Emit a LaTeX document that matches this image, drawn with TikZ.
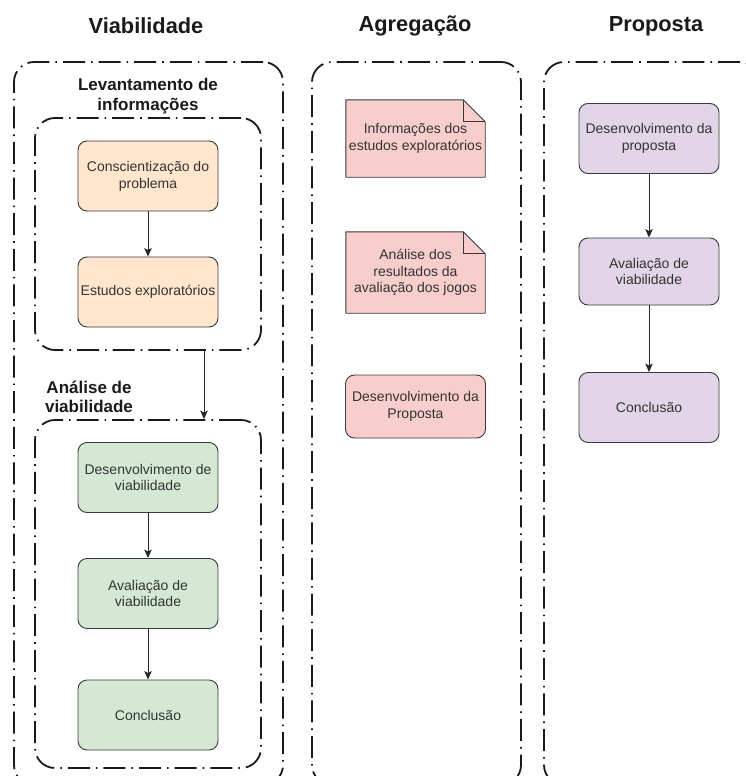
\documentclass[tikz,border=0pt]{standalone}
\usepackage{fontspec}
\setmainfont{Liberation Sans}
\usetikzlibrary{arrows.meta,backgrounds}
\definecolor{edge}{HTML}{36393D}
\definecolor{orangefill}{HTML}{FFE6CC}
\definecolor{greenfill}{HTML}{D5E8D4}
\definecolor{pinkfill}{HTML}{F8CECC}
\definecolor{purplefill}{HTML}{E1D5E7}
\definecolor{bodytext}{HTML}{333333}
\definecolor{framecol}{HTML}{1A1A1A}

\begin{document}
\begin{tikzpicture}[x=1pt,y=-1pt,
  frame/.style={draw=framecol, line width=1.8pt, rounded corners=20pt,
    dash pattern=on 22pt off 6pt on 1.6pt off 6pt},
  stepbox/.style={draw=edge, line width=0.9pt, rounded corners=9pt,
    minimum width=140pt, minimum height=70pt, align=center, text=bodytext,
    font=\fontsize{14}{16.8}\selectfont, inner sep=2pt},
  notebox/.style={minimum width=139pt, minimum height=77pt, align=center,
    text=bodytext, font=\fontsize{14}{16.8}\selectfont, inner sep=2pt},
  notefold/.style={fill=pinkfill, draw=edge, line width=0.9pt},
  title/.style={font=\bfseries\fontsize{21.8}{26}\selectfont, text=framecol},
  grouplabel/.style={font=\bfseries\fontsize{17}{19.5}\selectfont, align=center, text=framecol},
  link/.style={draw=black!85, line width=1pt, -{Stealth[length=8.5pt,width=7.5pt,inset=2pt]}}
]
\clip (0,0) rectangle (746,776);

% column titles
\node[title] (t1) at (146,26) {Viabilidade};
\node[title] (t2) at (415,26) {Agregação};
\node[title] (t3) at (656,26) {Proposta};

% column frames
\node[frame, minimum width=269pt, minimum height=723pt] (f1) at (148.5,423.5) {};
\node[frame, minimum width=209pt, minimum height=723pt] (f2) at (416.5,423.5) {};
\node[frame, minimum width=216pt, minimum height=723pt] (f3) at (652,423.5) {};

% sub-phase frames of the first column
\node[frame, minimum width=226pt, minimum height=232pt] (lev) at (148,234) {};
\node[frame, minimum width=226pt, minimum height=348pt] (ana) at (148,594) {};
\node[grouplabel] (levl) at (148,96) {Levantamento de\\informações};
\node[grouplabel] (anal) at (89,397) {Análise de\\viabilidade};

% first column steps
\node[stepbox, fill=orangefill] (s1) at (148,176) {Conscientização do\\problema};
\node[stepbox, fill=orangefill] (s2) at (148,292) {Estudos exploratórios};
\node[stepbox, fill=greenfill] (v1) at (148,477.5) {Desenvolvimento de\\viabilidade};
\node[stepbox, fill=greenfill] (v2) at (148,593.5) {Avaliação de\\viabilidade};
\node[stepbox, fill=greenfill] (v3) at (148,715) {Conclusão};

% second column
\node[notebox] (a1) at (415.5,138.5) {Informações dos\\estudos exploratórios};
\node[notebox, minimum height=81pt] (a2) at (415.5,272.5) {Análise dos\\resultados da\\avaliação dos jogos};
\node[stepbox, fill=pinkfill, minimum height=63pt] (a3) at (415.5,406.5) {Desenvolvimento da\\Proposta};

% third column
\node[stepbox, fill=purplefill] (p1) at (649,138.5) {Desenvolvimento da\\proposta};
\node[stepbox, fill=purplefill, minimum height=67pt] (p2) at (649,271.5) {Avaliação de\\viabilidade};
\node[stepbox, fill=purplefill] (p3) at (649,407.5) {Conclusão};

% dog-eared note outlines behind the note texts
\begin{scope}[on background layer]
  \foreach \n in {a1,a2} {
    \filldraw[notefold] (\n.north west) -- ([xshift=-22pt]\n.north east)
      -- ([yshift=-22pt]\n.north east) -- (\n.south east) -- (\n.south west) -- cycle;
    \draw[draw=edge, line width=0.9pt] ([xshift=-22pt]\n.north east)
      -- ([xshift=-22pt,yshift=-22pt]\n.north east) -- ([yshift=-22pt]\n.north east);
  }
\end{scope}

% connectors
\draw[link] (s1) -- (s2);
\draw[link] (v1) -- (v2);
\draw[link] (v2) -- (v3);
\draw[link] (p1) -- (p2);
\draw[link] (p2) -- (p3);
\draw[link] ([xshift=56pt]lev.south) -- ([xshift=56pt]ana.north);
\end{tikzpicture}
\end{document}
